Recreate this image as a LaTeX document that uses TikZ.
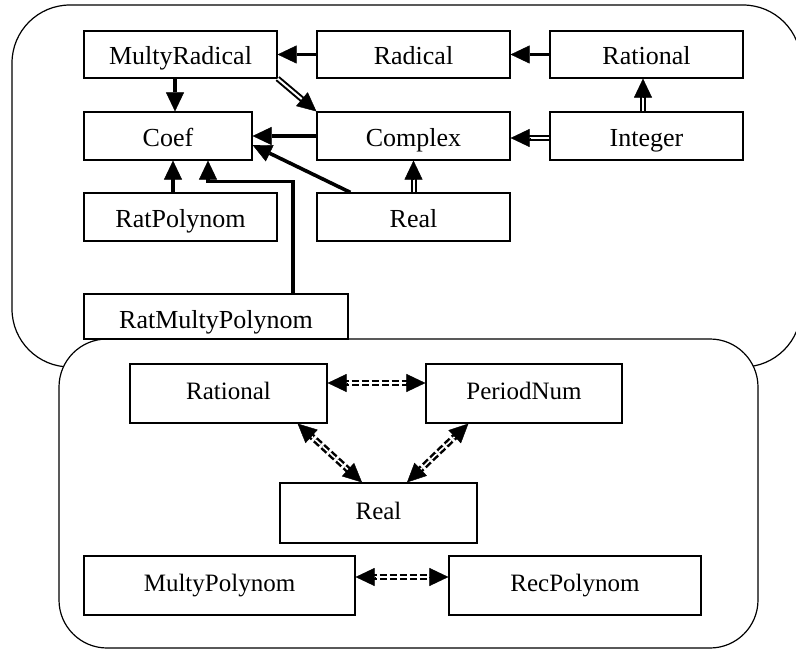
\documentclass[tikz,border=0pt]{standalone}
\usepackage{fontspec}
\setmainfont{Liberation Serif}
\usetikzlibrary{arrows.meta,calc}
\newcommand\dblarrow[2]{%
  \draw[dblline, shorten >=14pt] (#1) -- (#2);
  \draw[tipend] ($(#2)!19pt!(#1)$) -- (#2);}
\newcommand\dashboth[2]{%
  \draw[ddash, shorten <=14pt, shorten >=14pt] (#1) -- (#2);
  \draw[tipend] ($(#2)!19pt!(#1)$) -- (#2);
  \draw[tipend] ($(#1)!19pt!(#2)$) -- (#1);}
\begin{document}
\begin{tikzpicture}[x=1pt,y=-1pt,
  box/.style={draw, line width=1.2pt, inner sep=0pt, font=\fontsize{26}{30}\selectfont,
    text height=21pt, text depth=0pt, minimum width=193pt, minimum height=47pt},
  lbox/.style={box, font=\fontsize{25}{29}\selectfont, text height=12.5pt, minimum height=59pt},
  harrow/.style={line width=3.6pt, -{Triangle[length=19pt,width=18pt,line width=0.4pt]}},
  tipend/.style={line width=0.4pt, -{Triangle[length=19pt,width=18pt,line width=0.4pt]}},
  dblline/.style={double, line width=2pt, double distance=2pt},
  ddash/.style={double, line width=2.5pt, double distance=1.6pt, dash pattern=on 7pt off 3pt},
  region/.style={line width=1.2pt}]
\useasboundingbox (0,0) rectangle (796,650);
% regions
\draw[region, rounded corners=58pt] (12,5) rectangle (801,367);
\draw[region, fill=white, rounded corners=48pt] (59,339) rectangle (758,648);
% top nodes
\node[box] (mr) at (180.5,54.5) {MultyRadical};
\node[box] (rad) at (413.5,54.5) {Radical};
\node[box] (ratT) at (646.5,54.5) {Rational};
\node[box, minimum width=168pt, minimum height=48pt] (coef) at (168,136) {Coef};
\node[box, minimum height=48pt] (cpx) at (413.5,136) {Complex};
\node[box, minimum height=48pt] (int) at (646.5,136) {Integer};
\node[box, minimum height=48pt] (ratp) at (180.5,217) {RatPolynom};
\node[box, minimum height=48pt] (realT) at (413.5,217) {Real};
\node[box, minimum width=264pt, minimum height=45pt, text height=23pt] (rmp) at (216,316.5) {RatMultyPolynom};
% lower nodes
\node[lbox, minimum width=197pt] (ratL) at (228.5,393.5) {Rational};
\node[lbox, minimum width=196pt] (per) at (524,393.5) {PeriodNum};
\node[lbox, minimum width=197pt, minimum height=60pt, text height=13.5pt] (realL) at (378.5,513) {Real};
\node[lbox, minimum width=271pt] (mp) at (219.5,585.5) {MultyPolynom};
\node[lbox, minimum width=252pt] (rp) at (575,585.5) {RecPolynom};
% solid arrows
\draw[harrow] (rad.west) -- (mr.east);
\draw[harrow] (ratT.west) -- (rad.east);
\coordinate (m1) at ($(mr.south)+(-5.5,0)$);
\coordinate (c1) at ($(coef.north)+(7,0)$);
\draw[harrow] (m1) -- (c1);
\draw[harrow] (cpx.west) -- (coef.east);
\coordinate (r1) at ($(realT.north west)+(34,0)$);
\coordinate (c2) at ($(coef.east)+(0,9)$);
\draw[harrow] (r1) -- (c2);
\coordinate (p1) at ($(ratp.north)+(-7.5,0)$);
\coordinate (c3) at ($(coef.south)+(5,0)$);
\draw[harrow] (p1) -- (c3);
\coordinate (q1) at ($(rmp.north)+(77,0)$);
\coordinate (c4) at ($(coef.south)+(40,0)$);
\coordinate (c5) at ($(coef.south)+(40,21)$);
\draw[harrow] (q1) |- (c5) -- (c4);
% double arrows
\dblarrow{mr.south east}{cpx.north west}
\coordinate (i2) at ($(int.west)+(0,2)$);
\coordinate (x2) at ($(cpx.east)+(0,2)$);
\dblarrow{i2}{x2}
\coordinate (i1) at ($(int.north)+(-3.5,0)$);
\coordinate (t1) at ($(ratT.south)+(-3.5,0)$);
\dblarrow{i1}{t1}
\dblarrow{realT.north}{cpx.south}
% dashed double-headed arrows
\coordinate (a1) at ($(ratL.east)+(0,-10.5)$);
\coordinate (a2) at ($(per.west)+(0,-10.5)$);
\dashboth{a1}{a2}
\coordinate (b1) at ($(ratL.south east)+(-30,0)$);
\coordinate (b2) at ($(realL.north)+(-16.5,0)$);
\dashboth{b1}{b2}
\coordinate (d1) at ($(per.south west)+(43,0)$);
\coordinate (d2) at ($(realL.north)+(28.5,0)$);
\dashboth{d1}{d2}
\coordinate (e1) at ($(mp.east)+(0,-8.5)$);
\coordinate (e2) at ($(rp.west)+(0,-8.5)$);
\dashboth{e1}{e2}
\end{tikzpicture}
\end{document}
